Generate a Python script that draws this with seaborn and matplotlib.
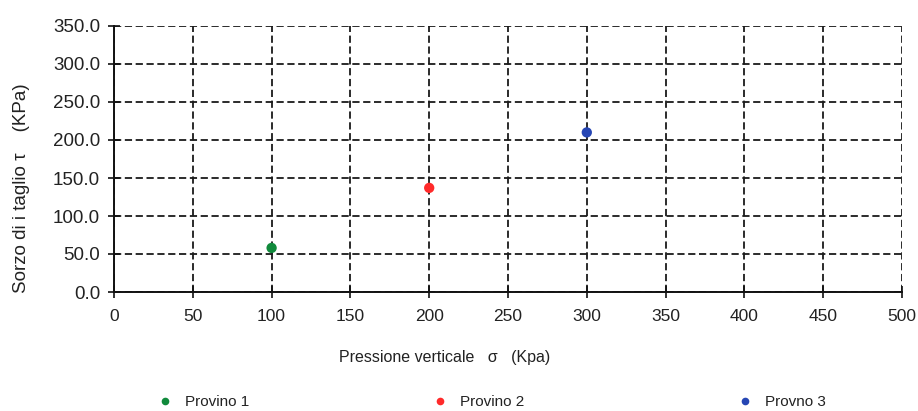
import matplotlib
matplotlib.use("Agg")
import matplotlib.pyplot as plt
from matplotlib.lines import Line2D
import seaborn as sns
import pandas as pd

# Shear test results: vertical pressure vs. shear stress per specimen
samples = ["Provino 1", "Provino 2", "Provno 3"]
sigma = [100, 200, 300]
tau = [58, 137, 210]
colors = ["#118a3c", "#ff2a2a", "#2646b4"]

x_ticks = [0, 50, 100, 150, 200, 250, 300, 350, 400, 450, 500]
y_ticks = [0, 50, 100, 150, 200, 250, 300, 350]

df = pd.DataFrame({"sigma": sigma, "tau": tau, "provino": samples})

sns.set_style("white")
plt.rcParams["font.family"] = ["Liberation Sans", "DejaVu Sans"]

fig = plt.figure(figsize=(9.18, 4.11), dpi=100)
ax = fig.add_axes([114 / 918, 1 - 292 / 411, 788 / 918, 266 / 411])

palette = dict(zip(samples, colors))
sns.scatterplot(data=df, x="sigma", y="tau", hue="provino", palette=palette,
                s=55, edgecolor="none", legend=False, ax=ax, zorder=5)

ax.set_xlim(0, 500)
ax.set_ylim(0, 350)
ax.set_xticks(x_ticks)
ax.set_yticks(y_ticks)
ax.set_xticklabels([str(v) for v in x_ticks])
ax.set_yticklabels([f"{v:.1f}" for v in y_ticks])

ax.grid(True, color="#1a1a1a", linestyle=(0, (4, 2)), linewidth=1.3)
ax.set_axisbelow(True)
for side in ("top", "right"):
    ax.spines[side].set_visible(False)
for side in ("left", "bottom"):
    ax.spines[side].set_color("#111111")
    ax.spines[side].set_linewidth(1.4)

ax.tick_params(axis="both", direction="inout", length=8, width=1.2,
               color="#111111", labelcolor="#222222")
ax.tick_params(axis="y", pad=6, left=True, labelsize=13.5)
ax.tick_params(axis="x", pad=8, bottom=True, labelsize=12.5)

ax.set_xlabel("Pressione verticale   σ   (Kpa)", fontsize=11.5, color="#222222")
ax.set_ylabel("Sorzo di i taglio τ    (KPa)", fontsize=13.5, color="#222222")
ax.xaxis.set_label_coords(0.42, -0.217)
ax.yaxis.set_label_coords(-0.106, 0.389)

# One legend entry per specimen, laid out along the bottom
marker_x = [165, 440, 745]
for name, col, mx in zip(samples, colors, marker_x):
    h = Line2D([], [], marker="o", linestyle="none", color=col,
               markersize=5.5, markeredgewidth=0)
    leg = fig.legend([h], [name], loc="center left",
                     bbox_to_anchor=((mx - 7.6) / 918, 1 - 402 / 411),
                     frameon=False, borderpad=0, borderaxespad=0,
                     handlelength=1, handletextpad=0.8, fontsize=11)
    for t in leg.get_texts():
        t.set_color("#222222")

fig.savefig("out.png", dpi=100, facecolor="white")
